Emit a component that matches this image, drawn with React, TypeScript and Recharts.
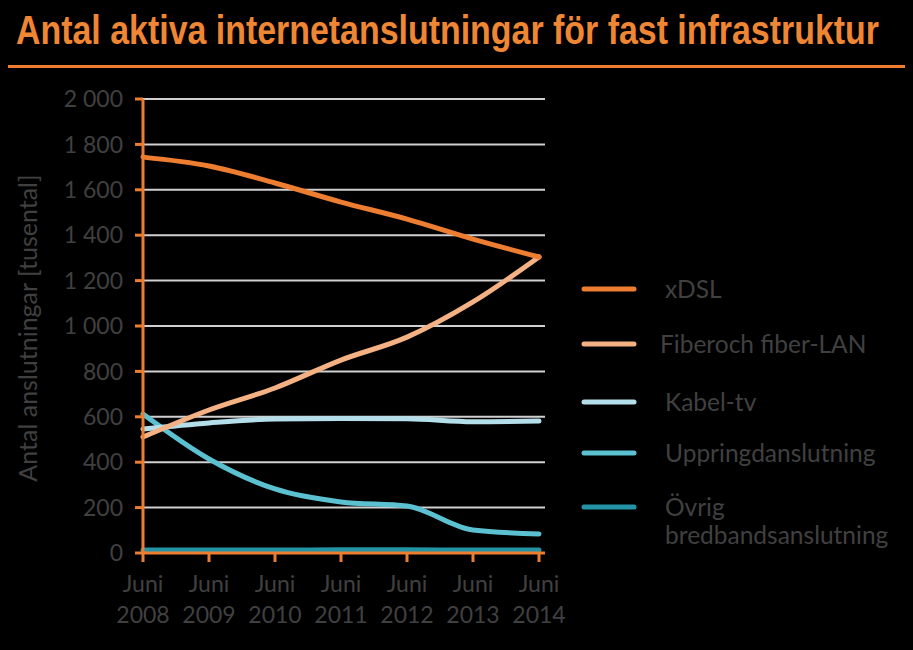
import React, { useLayoutEffect, useRef, useState } from "react";
import { LineChart, Line, XAxis, YAxis, CartesianGrid, Legend } from "recharts";

// Values in thousands.
const years = ["2008", "2009", "2010", "2011", "2012", "2013", "2014"];
const xdsl = [1744, 1705, 1630, 1546, 1471, 1383, 1304];
const fiber = [511, 630, 727, 850, 951, 1106, 1304];
const kabel = [546, 573, 590, 592, 591, 578, 581];
const uppring = [612, 414, 282, 225, 207, 101, 84];
const ovrig = [13, 13, 13, 14, 14, 13, 13];
const yTicks = [0, 200, 400, 600, 800, 1000, 1200, 1400, 1600, 1800, 2000];

const series = [
  { key: "xdsl", name: "xDSL", color: "#ed7d31" },
  { key: "fiber", name: "Fiberoch fiber-LAN", color: "#f4b183" },
  { key: "kabel", name: "Kabel-tv", color: "#b4dfea" },
  { key: "uppring", name: "Uppringdanslutning", color: "#5bc1d0" },
  { key: "ovrig", name: "Övrig\nbredbandsanslutning", color: "#2394a6" },
];

const data = years.map((y, i) => ({
  year: y,
  xdsl: xdsl[i],
  fiber: fiber[i],
  kabel: kabel[i],
  uppring: uppring[i],
  ovrig: ovrig[i],
}));

const ORANGE = "#ed7d31";
const TEXT = "#404040";
const FONT = "Lato, 'Open Sans', sans-serif";

const fmt = (v: number) => String(v).replace(/\B(?=(\d{3})+(?!\d))/g, " ");

function XTick(props: any) {
  const { x, y, payload } = props;
  return (
    <g>
      <text x={x} y={y + 28} textAnchor="middle" fill={TEXT} fontSize={23} fontFamily={FONT}>
        Juni
      </text>
      <text x={x} y={y + 59} textAnchor="middle" fill={TEXT} fontSize={23} fontFamily={FONT}>
        {payload.value}
      </text>
    </g>
  );
}

const rowY = [289, 344, 402, 453, 507];

function LegendBox() {
  return (
    <svg width={340} height={320} style={{ position: "absolute", left: 570, top: 250 }}>
      {series.map((s, i) => {
        const cy = rowY[i] - 250;
        const lines = s.name.split("\n");
        return (
          <g key={s.key}>
            <line x1={14} x2={64} y1={cy} y2={cy} stroke={s.color} strokeWidth={5} strokeLinecap="round" />
            {lines.map((t, j) => (
              <text
                key={j}
                x={i === 1 ? 90 : 95}
                y={cy + 9 + j * 28}
                fill={TEXT}
                fontSize={24.5}
                fontFamily={FONT}
              >
                {t}
              </text>
            ))}
          </g>
        );
      })}
    </svg>
  );
}

// condensed title: measure natural width, then squeeze it to the reference width
function Title() {
  const ref = useRef<HTMLSpanElement>(null);
  const [k, setK] = useState(0.7);
  useLayoutEffect(() => {
    if (ref.current) setK(863 / ref.current.offsetWidth);
  }, []);
  return (
    <span
      ref={ref}
      style={{
        position: "absolute",
        left: 16,
        top: 7,
        display: "inline-block",
        color: "#ef8633",
        fontFamily: "'Liberation Sans', Arial, sans-serif",
        fontWeight: "bold",
        fontSize: 40,
        lineHeight: "46px",
        whiteSpace: "nowrap",
        transform: `scaleX(${k})`,
        transformOrigin: "0 0",
      }}
    >
      Antal aktiva internetanslutningar för fast infrastruktur
    </span>
  );
}

export default function App() {
  return (
    <div
      style={{
        position: "absolute",
        left: 0,
        top: 0,
        width: 913,
        height: 650,
        background: "#000",
        overflow: "hidden",
      }}
    >
      <Title />
      <div
        style={{
          position: "absolute",
          left: 8,
          top: 65,
          width: 897,
          height: 3,
          background: ORANGE,
        }}
      />
      <div
        style={{
          position: "absolute",
          left: 27,
          top: 328,
          transform: "translate(-50%, -50%) rotate(-90deg)",
          color: TEXT,
          fontFamily: FONT,
          fontSize: 25,
          whiteSpace: "nowrap",
        }}
      >
        Antal anslutningar [tusental]
      </div>
      <LineChart
        width={913}
        height={650}
        data={data}
        margin={{ top: 99, right: 368, bottom: 0, left: 0 }}
        style={{ position: "absolute", left: 0, top: 0 }}
      >
        <CartesianGrid vertical={false} stroke="#d0d0d0" strokeWidth={2} />
        <XAxis
          dataKey="year"
          height={97}
          padding={{ left: 0, right: 6 }}
          axisLine={{ stroke: ORANGE, strokeWidth: 3 }}
          tickLine={{ stroke: ORANGE, strokeWidth: 3 }}
          tickSize={9}
          tick={<XTick />}
          interval={0}
        />
        <YAxis
          width={143}
          domain={[0, 2000]}
          ticks={yTicks}
          tickFormatter={fmt}
          axisLine={{ stroke: ORANGE, strokeWidth: 3 }}
          tickLine={{ stroke: ORANGE, strokeWidth: 3 }}
          tickSize={8}
          tickMargin={12}
          tick={{ fill: TEXT, fontSize: 23, fontFamily: FONT }}
        />
        {series
          .slice()
          .reverse()
          .map((s) => (
            <Line
              key={s.key}
              dataKey={s.key}
              name={s.name}
              type="monotone"
              stroke={s.color}
              strokeWidth={5}
              strokeLinecap="round"
              dot={false}
              isAnimationActive={false}
            />
          ))}
        <Legend content={() => null} />
      </LineChart>
      <LegendBox />
    </div>
  );
}
